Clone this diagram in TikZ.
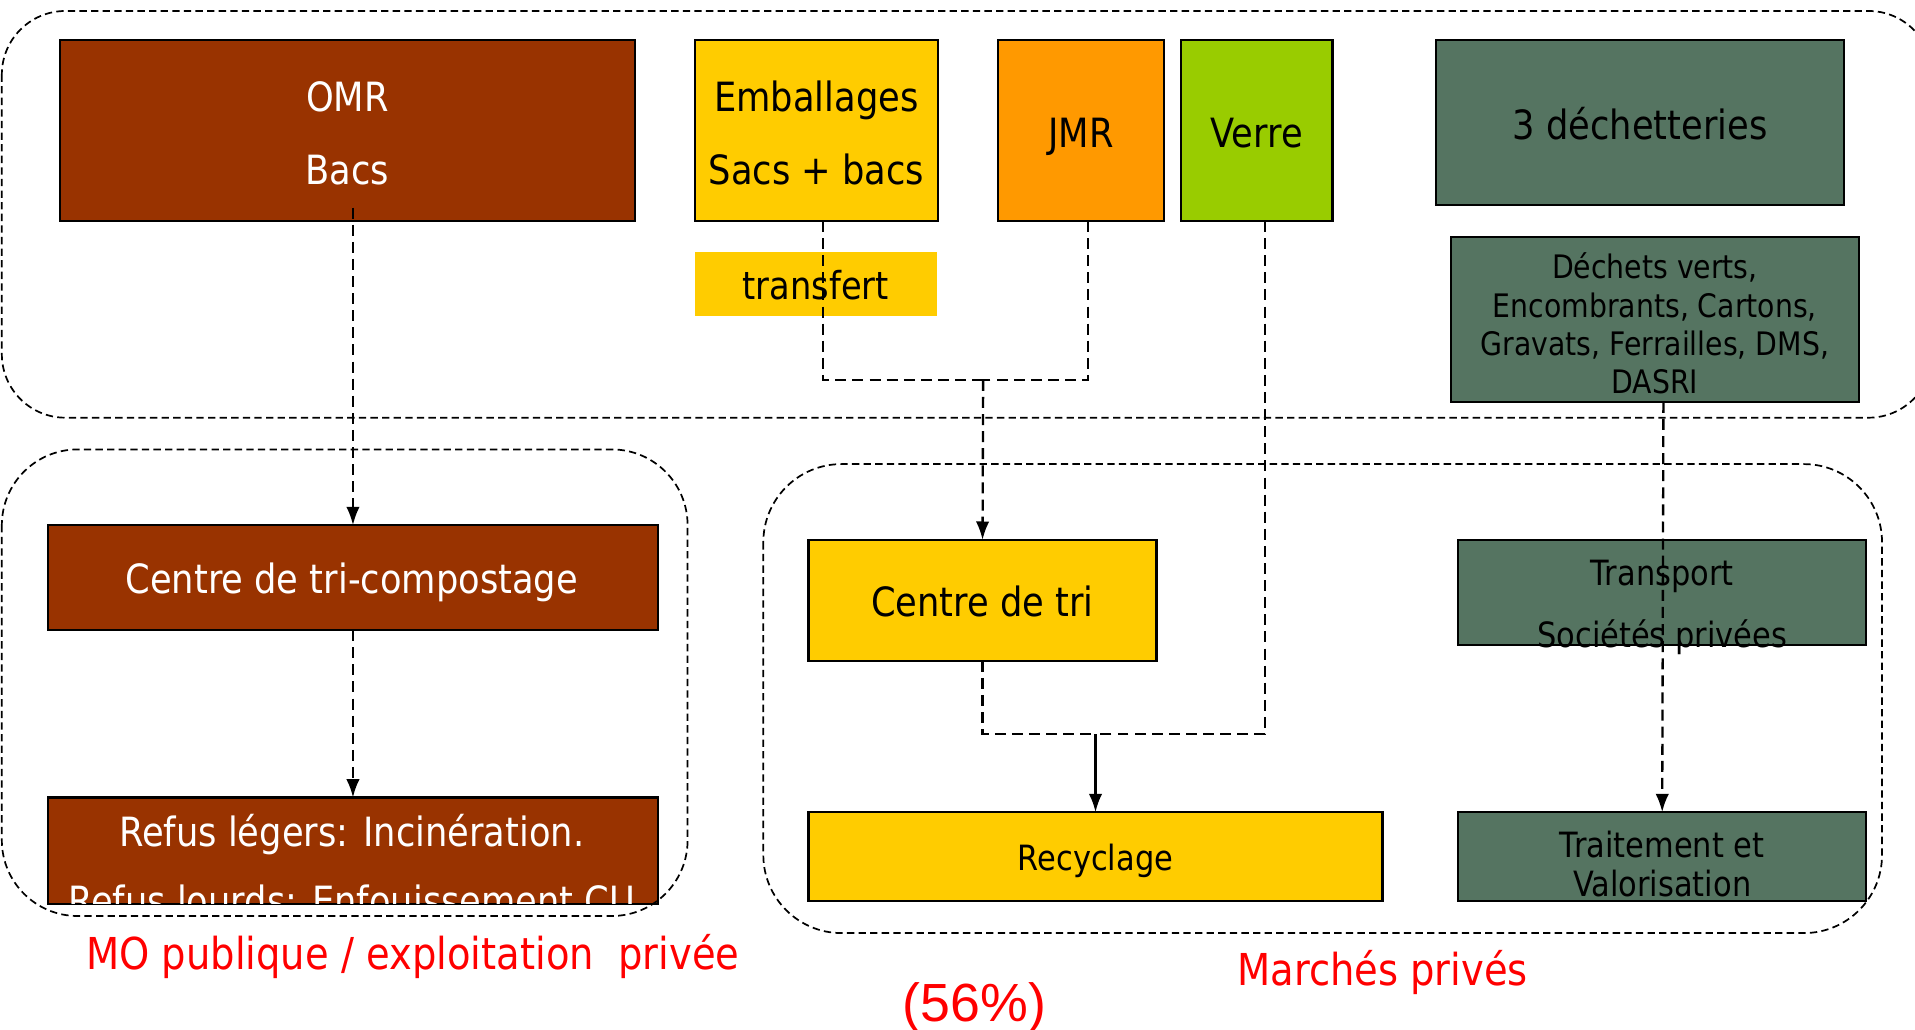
\documentclass[tikz,border=0pt]{standalone}
\usepackage{fontspec}
\setmainfont[FakeStretch=0.875]{DejaVu Sans}
\newfontfamily\arialf{Liberation Sans}
\usetikzlibrary{arrows.meta}
\definecolor{cbrown}{HTML}{993300}
\definecolor{cyellow}{HTML}{FFCC00}
\definecolor{corange}{HTML}{FF9900}
\definecolor{cgreen}{HTML}{99CC00}
\definecolor{cgray}{HTML}{557461}
\begin{document}
\begin{tikzpicture}[x=1pt,y=-1pt,
  box/.style={draw=black, line width=1.8, inner sep=0, outer sep=0, anchor=center},
  txt/.style={anchor=base, inner sep=0},
  big/.style={font=\fontsize{33}{40}\selectfont},
  mid/.style={font=\fontsize{28.5}{34}\selectfont},
  small/.style={font=\fontsize{26.5}{32}\selectfont},
  redt/.style={text=red, font=\fontsize{36}{42}\selectfont},
  conn/.style={line width=1.9, dash pattern=on 9 off 5},
  arr/.style={-{Latex[length=15,width=11]}},
  grp/.style={line width=1.4, dash pattern=on 6 off 3.5}
]
\useasboundingbox (0,0) rectangle (1568,843);
\clip (0,0) rectangle (1568,843);
\fill[white] (0,0) rectangle (1568,843);

% boxes
\node[box, fill=cbrown, minimum width=471, minimum height=148] (omr) at (284.5,107) {};
\node[box, fill=cyellow, minimum width=199, minimum height=148] (emb) at (668.5,107) {};
\node[box, draw=none, fill=cyellow, minimum width=198, minimum height=53] (trf) at (668,232.5) {};
\node[box, fill=corange, minimum width=136, minimum height=148] (jmr) at (885,107) {};
\node[box, fill=cgreen, minimum width=124, minimum height=148] (verre) at (1029,107) {};
\node[box, fill=cgray, minimum width=334, minimum height=135] (dech) at (1343,100.5) {};
\node[box, fill=cgray, minimum width=334, minimum height=135] (dv) at (1355,261.5) {};
\node[box, fill=cbrown, minimum width=500, minimum height=86] (trico) at (289,473) {};
\node[box, fill=cbrown, minimum width=500, minimum height=87] (refus) at (289,696.5) {};
\node[box, fill=cyellow, minimum width=285, minimum height=99] (ctri) at (804.5,491.5) {};
\node[box, fill=cyellow, minimum width=470, minimum height=73] (recyc) at (897,701.5) {};
\node[box, fill=cgray, minimum width=334, minimum height=86] (transp) at (1361,485) {};
\node[box, fill=cgray, minimum width=334, minimum height=73] (trait) at (1361,701.5) {};

% texts
\node[txt, big, text=white] (t1) at (284.5,91) {OMR};
\node[txt, big, text=white] (t2) at (284.5,151) {Bacs};
\node[txt, big] (t3) at (668.5,91) {Emballages};
\node[txt, big] (t4) at (668.5,151) {Sacs + bacs};
\node[txt, font=\fontsize{31.5}{38}\selectfont] (t5) at (668,245) {transfert};
\node[txt, big] (t6) at (885,121) {JMR};
\node[txt, big] (t7) at (1029,121) {Verre};
\node[txt, big] (t8) at (1343,114) {3 déchetteries};
\node[txt, small] (t9) at (1355,228) {Déchets verts,};
\node[txt, small] (t10) at (1355,260) {Encombrants, Cartons,};
\node[txt, small] (t11) at (1355,291) {Gravats, Ferrailles, DMS,};
\node[txt, small] (t12) at (1355,322) {DASRI};
\node[txt, big, text=white] (t13) at (288,486) {Centre de tri-compostage};
\node[txt, big, text=white] (t14) at (288,693) {Refus légers: Incinération.};
\begin{scope}
  \clip (refus.north west) rectangle (refus.south east);
  \node[txt, big, text=white] (t15) at (288,750) {Refus lourds: Enfouissement CU};
\end{scope}
\node[txt, big] (t16) at (804.5,505) {Centre de tri};
\node[txt, mid] (t17) at (897,713) {Recyclage};
\node[txt, mid] (t18) at (1361,479) {Transport};
\node[txt, mid] (t19) at (1361,530) {Sociétés privées};
\node[txt, mid] (t20) at (1361,702) {Traitement et};
\node[txt, mid] (t21) at (1361,734) {Valorisation};

% connectors
\coordinate (omrs) at (289,170);
\coordinate (j1) at (805,311);
\coordinate (j2) at (897,601);
\draw[conn, arr] (omrs) -- (trico.north);
\draw[conn, arr] (trico.south) -- (refus.north);
\draw[conn] ([xshift=5.5]emb.south) |- (j1);
\draw[conn] ([xshift=6]jmr.south) |- (j1);
\draw[conn, arr] (j1) -- (ctri.north);
\draw[conn] (ctri.south) |- (j2);
\draw[conn] ([xshift=7]verre.south) |- (j2);
\draw[conn, arr] (j2) -- (recyc.north);
\draw[conn, dash phase=7, shorten >=10] (j2) -- (recyc.north);
\draw[conn, arr] ([xshift=7]dv.south) -- (trait.north);

% group frames
\draw[grp, rounded corners=52] (1.5,9) rectangle (1582,342);
\draw[grp, rounded corners=62] (1.5,368) rectangle (563,750);
\draw[grp, rounded corners=64] (625,380) rectangle (1541,764);

% labels
\node[txt, redt] (l1) at (338,794) {MO publique / exploitation \ privée};
\node[txt, redt] (l2) at (1132,807) {Marchés privés};
\node[txt, text=red, font=\arialf\fontsize{44}{50}\selectfont] (l3) at (798,836) {(56\%)};
\end{tikzpicture}
\end{document}
